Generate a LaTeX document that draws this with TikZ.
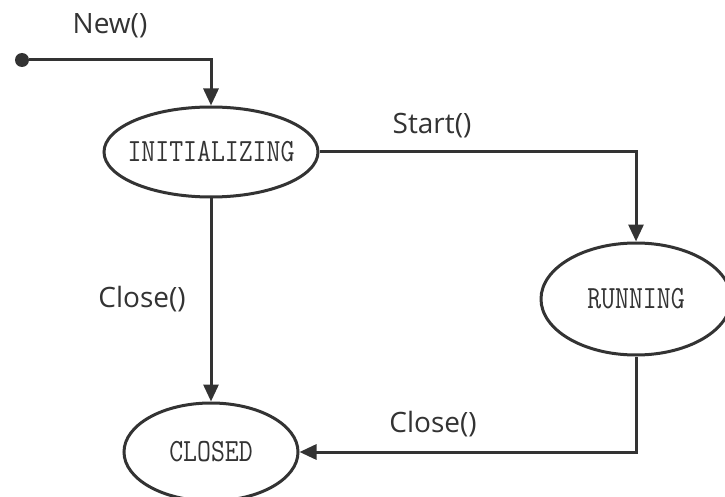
\documentclass[tikz,border=0pt]{standalone}
\usepackage{fontspec}
\usepackage{graphicx}
\setsansfont{Open Sans}
\usetikzlibrary{shapes.geometric,arrows.meta}
\definecolor{ink}{HTML}{333333}
\newcommand{\tallname}[1]{\scalebox{1}[1.2]{#1}}
\tikzset{
  state/.style={draw=ink, line width=3pt, ellipse, inner sep=0pt},
  statename/.style={font=\ttfamily\fontsize{27}{27}\selectfont, text=ink},
  label/.style={font=\sffamily\fontsize{28}{28}\selectfont, text=ink},
  flow/.style={draw=ink, line width=3pt,
    -{Triangle[length=17pt,width=15pt]}},
}
\begin{document}
\begin{tikzpicture}[x=1pt,y=-1pt]
  \useasboundingbox (0,0) rectangle (725,497);
  % initial pseudo-state
  \node[circle, fill=ink, minimum size=14pt, inner sep=0pt] (start) at (22,60) {};
  % states: the outline is sized explicitly, the name sits on top of it
  \node[state, minimum width=214pt, minimum height=90pt] (init) at (211,152) {};
  \node[statename] (initname) at (init.center) {\tallname{INITIALIZING}};
  \node[state, minimum width=190pt, minimum height=112pt] (run) at (636,299) {};
  \node[statename] (runname) at (run.center) {\tallname{RUNNING}};
  \node[state, minimum width=174pt, minimum height=98pt] (closed) at (211,452) {};
  \node[statename] (closedname) at (closed.center) {\tallname{CLOSED}};
  % transition labels
  \node[label] (lnew) at (110,26) {New()};
  \node[label] (lstart) at (432,126) {Start()};
  \node[label] (lclose1) at (142,299) {Close()};
  \node[label] (lclose2) at (433,424) {Close()};
  % transitions
  \draw[flow] (start) -| (init);
  \draw[flow] (init) -| (run);
  \draw[flow] (init) -- (closed);
  \draw[flow] (run) |- (closed);
\end{tikzpicture}
\end{document}
